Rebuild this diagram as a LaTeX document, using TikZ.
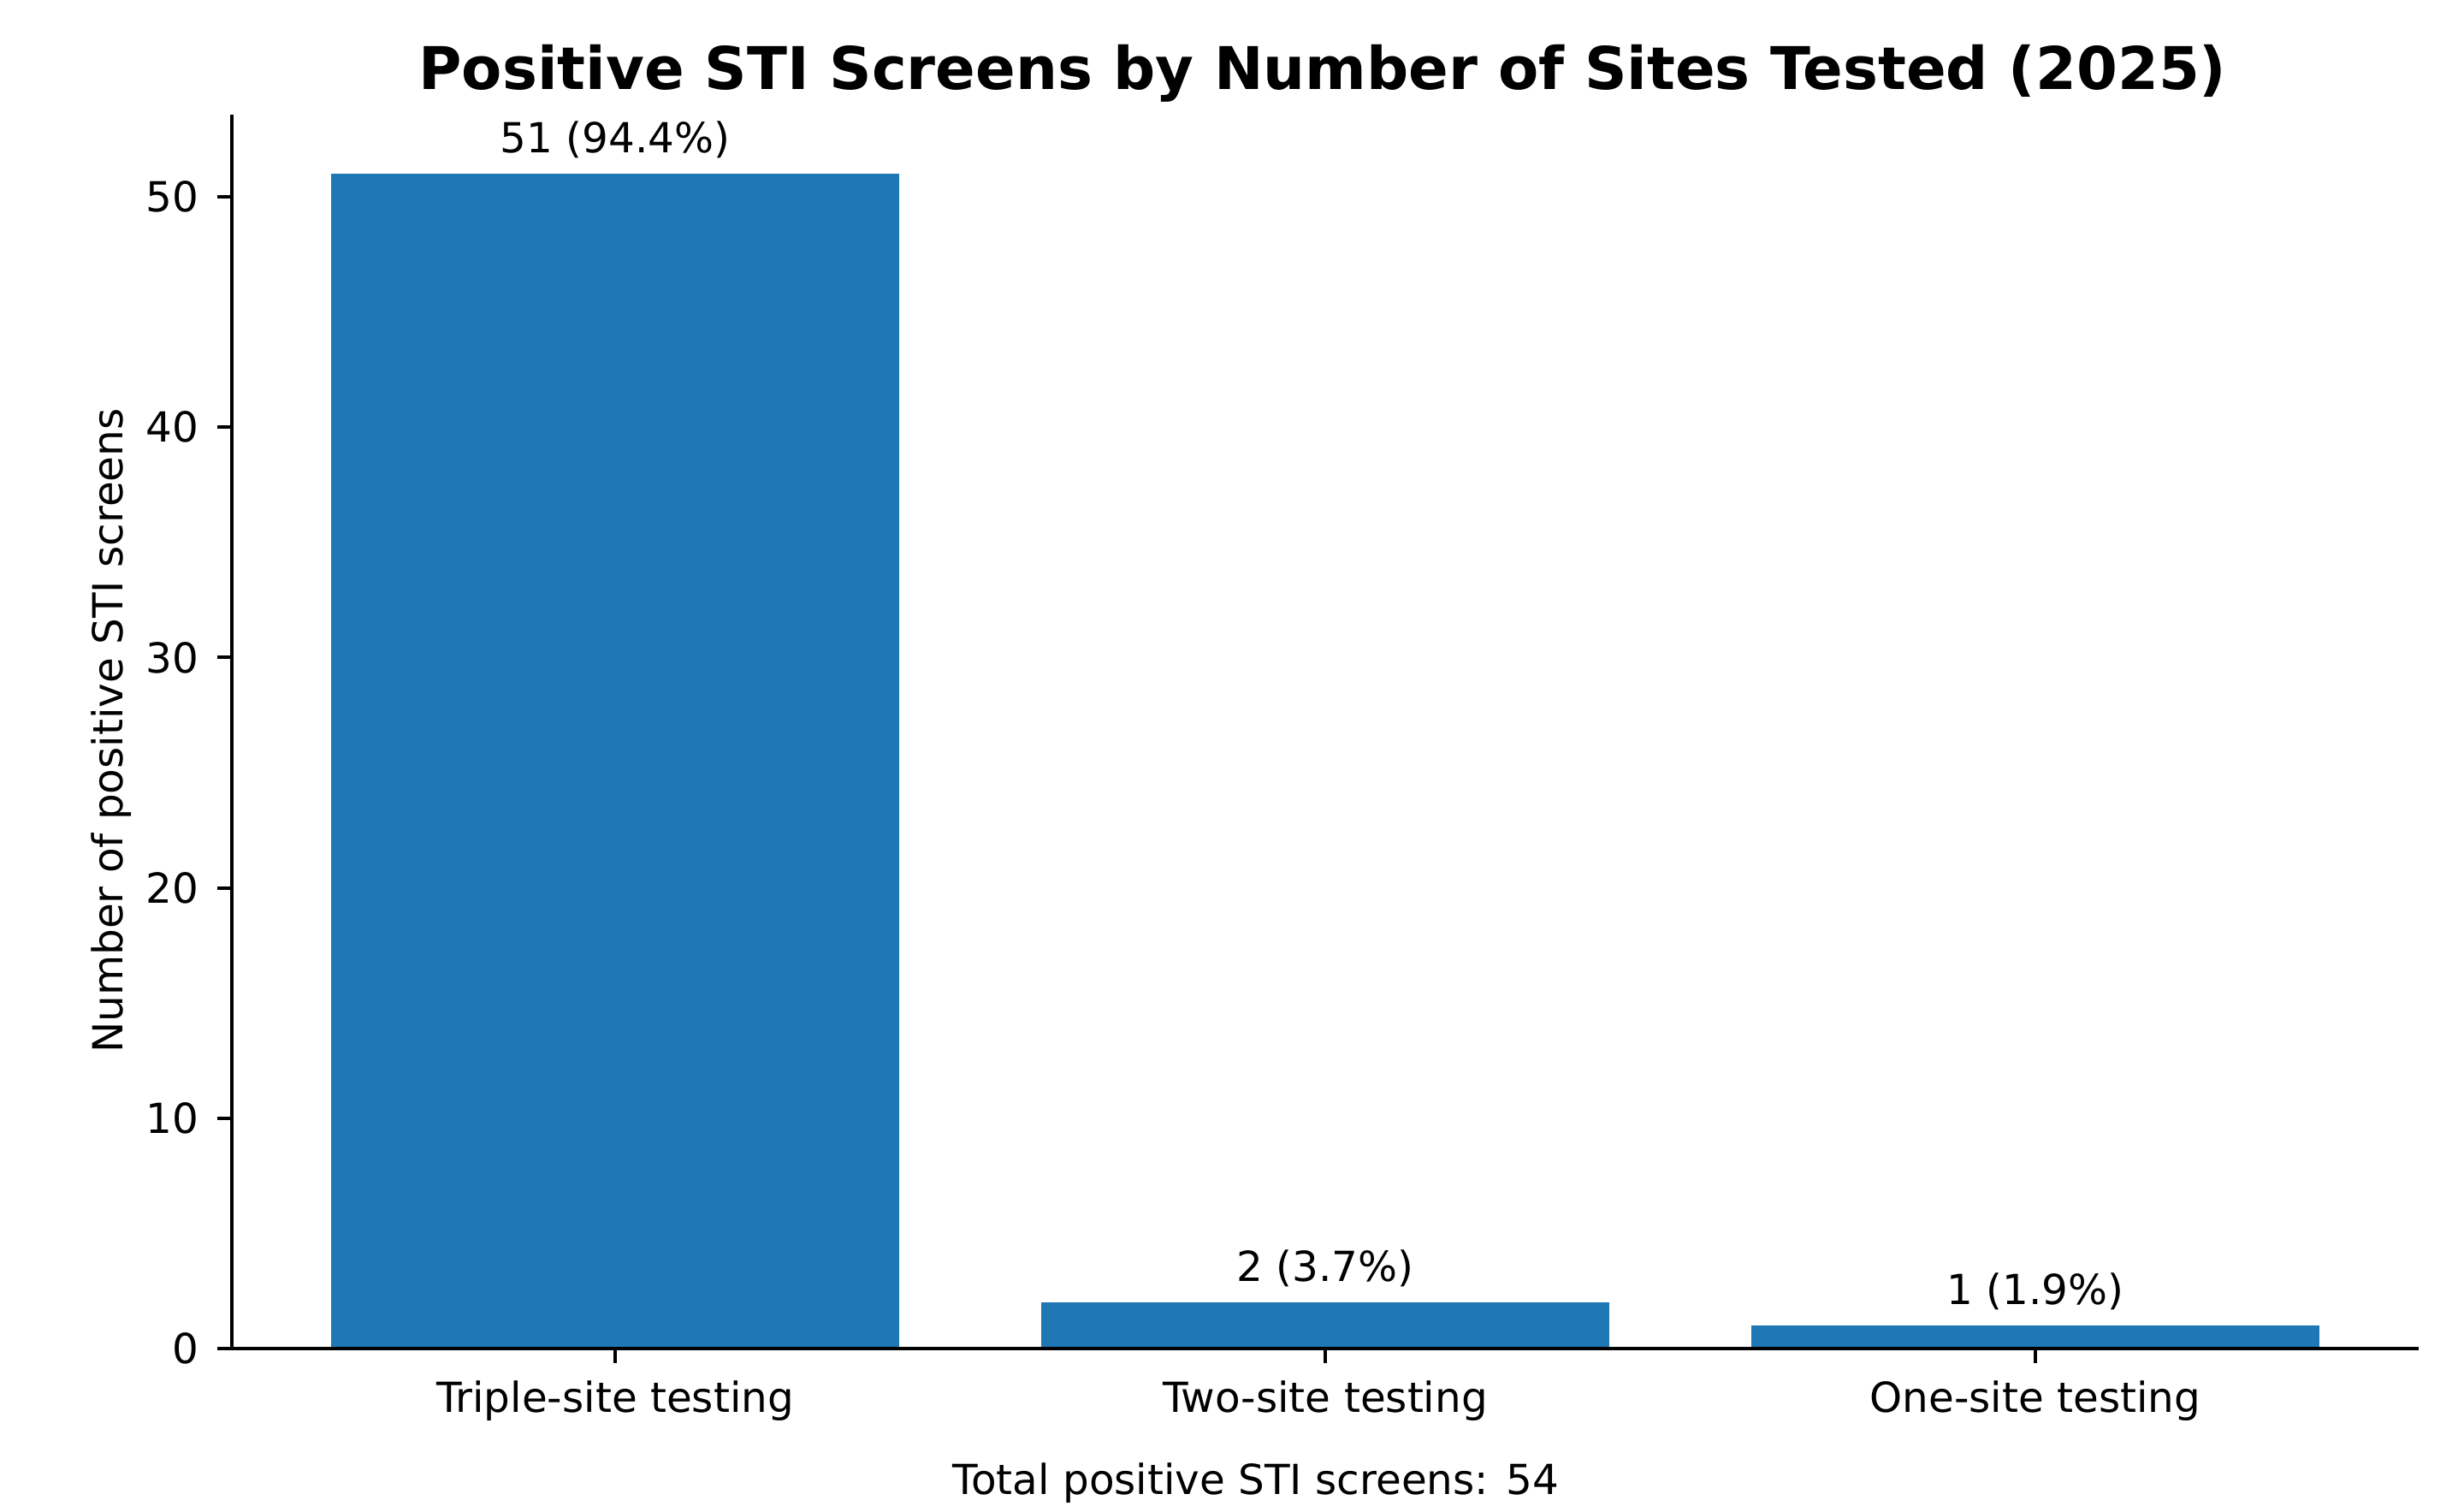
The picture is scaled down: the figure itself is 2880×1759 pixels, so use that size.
\documentclass[tikz,border=0pt]{standalone}
\usepackage{fontspec}
\setmainfont{DejaVu Sans}
\usetikzlibrary{positioning}
\definecolor{barblue}{RGB}{31,119,180}

\begin{document}
\begin{tikzpicture}[x=0.25pt,y=0.25pt,
	lbl/.style={inner sep=0pt,font=\fontsize{12.1pt}{14pt}\selectfont},
	axline/.style={line width=0.96pt,black}]
	\useasboundingbox (0,0) rectangle (2880,1759);
	
	\node[inner sep=0pt,anchor=base,font=\fontsize{17.2pt}{20pt}\selectfont\bfseries] (title) at (1546,1654) {Positive STI Screens by Number of Sites Tested (2025)};
	\node[lbl,anchor=base,rotate=90] (ylab) at (143,905) {Number of positive STI screens};
	\node[lbl,anchor=base] (total) at (1468,13) {Total positive STI screens: 54};
	
	\begin{scope}[shift={(719,183)},x=207.5pt,y=6.73pt]
		\foreach \i/\v/\name/\txt in {0/51/Triple-site testing/{51 (94.4\%)},1/2/Two-site testing/{2 (3.7\%)},2/1/One-site testing/{1 (1.9\%)}} {
			\fill[barblue] (\i-0.4,0) rectangle (\i+0.4,\v);
			\node[lbl,anchor=base,yshift=6.1pt] (val\i) at (\i,\v) {\txt};
			\draw[axline] (\i,0) -- ++(0,-4.25pt);
			\node[lbl,anchor=base,yshift=-18.5pt] (cat\i) at (\i,0) {\name};
		}
		\foreach \v in {0,10,...,50} {
			\draw[axline] (-0.54,\v) -- ++(-4.25pt,0);
			\node[lbl,anchor=east,xshift=-9.5pt] (y\v) at (-0.54,\v) {\v};
		}
		% spines
		\coordinate (ytop) at (-0.54,53.55);
		\coordinate (orig) at (-0.54,0);
		\coordinate (xend) at (2.54,0);
		\draw[axline] (ytop) -- (orig) -- (xend);
	\end{scope}
\end{tikzpicture}
\end{document}
